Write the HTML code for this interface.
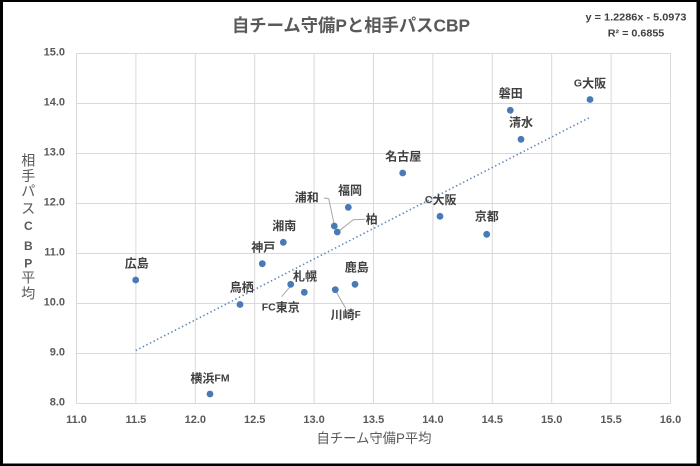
<!DOCTYPE html>
<html>
<head>
<meta charset="utf-8">
<style>
html,body{margin:0;padding:0;background:#fff;}
svg{display:block;}
text{font-family:"Liberation Sans","Noto Sans CJK JP",sans-serif;}
</style>
</head>
<body>
<svg width="700" height="466" viewBox="0 0 700 466" xmlns="http://www.w3.org/2000/svg">
  <rect x="0" y="0" width="700" height="466" fill="#000"/>
  <rect x="3" y="2" width="693.5" height="461.5" fill="#fff"/>

  <!-- gridlines -->
  <g stroke="#d9d9d9" stroke-width="1">
    <line x1="76.5" y1="53.5" x2="670.5" y2="53.5"/>
    <line x1="76.5" y1="103.5" x2="670.5" y2="103.5"/>
    <line x1="76.5" y1="153.5" x2="670.5" y2="153.5"/>
    <line x1="76.5" y1="203.5" x2="670.5" y2="203.5"/>
    <line x1="76.5" y1="253.5" x2="670.5" y2="253.5"/>
    <line x1="76.5" y1="303.5" x2="670.5" y2="303.5"/>
    <line x1="76.5" y1="353.5" x2="670.5" y2="353.5"/>
    <line x1="76.5" y1="403.5" x2="670.5" y2="403.5"/>
    <line x1="76.5" y1="53.5" x2="76.5" y2="403.5"/>
    <line x1="135.9" y1="53.5" x2="135.9" y2="403.5"/>
    <line x1="195.3" y1="53.5" x2="195.3" y2="403.5"/>
    <line x1="254.7" y1="53.5" x2="254.7" y2="403.5"/>
    <line x1="314.1" y1="53.5" x2="314.1" y2="403.5"/>
    <line x1="373.5" y1="53.5" x2="373.5" y2="403.5"/>
    <line x1="432.9" y1="53.5" x2="432.9" y2="403.5"/>
    <line x1="492.3" y1="53.5" x2="492.3" y2="403.5"/>
    <line x1="551.7" y1="53.5" x2="551.7" y2="403.5"/>
    <line x1="611.1" y1="53.5" x2="611.1" y2="403.5"/>
    <line x1="670.5" y1="53.5" x2="670.5" y2="403.5"/>
  </g>

  <!-- y tick labels -->
  <g fill="#595959" font-size="11" font-weight="bold" text-anchor="end" dominant-baseline="central">
    <text x="65" y="52.5">15.0</text>
    <text x="65" y="102.5">14.0</text>
    <text x="65" y="152.5">13.0</text>
    <text x="65" y="202.5">12.0</text>
    <text x="65" y="252.5">11.0</text>
    <text x="65" y="302.5">10.0</text>
    <text x="65" y="352.5">9.0</text>
    <text x="65" y="402.5">8.0</text>
  </g>

  <!-- x tick labels -->
  <g fill="#595959" font-size="11" font-weight="bold" text-anchor="middle" dominant-baseline="central">
    <text x="76.5" y="420">11.0</text>
    <text x="135.9" y="420">11.5</text>
    <text x="195.3" y="420">12.0</text>
    <text x="254.7" y="420">12.5</text>
    <text x="314.1" y="420">13.0</text>
    <text x="373.5" y="420">13.5</text>
    <text x="432.9" y="420">14.0</text>
    <text x="492.3" y="420">14.5</text>
    <text x="551.7" y="420">15.0</text>
    <text x="611.1" y="420">15.5</text>
    <text x="670.5" y="420">16.0</text>
  </g>

  <!-- title -->
  <text x="351" y="25.7" fill="#595959" font-size="17.5" font-weight="bold" text-anchor="middle" dominant-baseline="central" textLength="238" lengthAdjust="spacingAndGlyphs">自チーム守備Pと相手パスCBP</text>

  <!-- equation -->
  <text x="686.5" y="17.3" fill="#404040" font-size="10.5" font-weight="bold" text-anchor="end" dominant-baseline="central" textLength="101" lengthAdjust="spacingAndGlyphs">y = 1.2286x - 5.0973</text>
  <text x="664.3" y="33.3" fill="#404040" font-size="10.5" font-weight="bold" text-anchor="end" dominant-baseline="central" textLength="56.5" lengthAdjust="spacingAndGlyphs">R² = 0.6855</text>

  <!-- x axis title -->
  <text x="374" y="438.3" fill="#595959" font-size="13.5" text-anchor="middle" dominant-baseline="central" textLength="115" lengthAdjust="spacingAndGlyphs">自チーム守備P平均</text>

  <!-- y axis title (stacked) -->
  <g fill="#595959" font-size="14" text-anchor="middle" dominant-baseline="central">
    <text x="28.3" y="160.7">相</text>
    <text x="28.3" y="176">手</text>
    <text x="28.3" y="191">パ</text>
    <text x="28.3" y="208.3">ス</text>
    <text x="28.3" y="226" font-size="12" font-weight="bold">C</text>
    <text x="28.3" y="246" font-size="12" font-weight="bold">B</text>
    <text x="28.3" y="263.3" font-size="12" font-weight="bold">P</text>
    <text x="28.3" y="277.3">平</text>
    <text x="28.3" y="293.3">均</text>
  </g>

  <!-- trendline -->
  <line x1="135.7" y1="350.5" x2="590.7" y2="117" stroke="#5b87bd" stroke-width="1.6" stroke-dasharray="1.4 2.6" stroke-linecap="butt"/>

  <!-- leader lines -->
  <g stroke="#a6a6a6" stroke-width="1" fill="none">
    <polyline points="324,198 328.7,198.7 334,223.3"/>
    <polyline points="365.3,219.3 353.3,219.7 339.3,230.7"/>
    <polyline points="281.7,296.7 290,286.7"/>
    <polyline points="336.7,292.7 345.7,308.3"/>
  </g>

  <!-- points -->
  <g fill="#4a7ab5">
    <circle cx="135.7" cy="280" r="3.4"/>
    <circle cx="210" cy="394" r="3.4"/>
    <circle cx="240" cy="304.5" r="3.4"/>
    <circle cx="262.3" cy="263.7" r="3.4"/>
    <circle cx="283.3" cy="242.3" r="3.4"/>
    <circle cx="290.7" cy="284.3" r="3.4"/>
    <circle cx="304.3" cy="292.3" r="3.4"/>
    <circle cx="334.3" cy="226" r="3.4"/>
    <circle cx="337.3" cy="232" r="3.4"/>
    <circle cx="348.3" cy="207.3" r="3.4"/>
    <circle cx="335.3" cy="289.7" r="3.4"/>
    <circle cx="355" cy="284.3" r="3.4"/>
    <circle cx="402.7" cy="173" r="3.4"/>
    <circle cx="440" cy="216.3" r="3.4"/>
    <circle cx="486.7" cy="234.3" r="3.4"/>
    <circle cx="510.3" cy="110.3" r="3.4"/>
    <circle cx="521" cy="139.3" r="3.4"/>
    <circle cx="590" cy="99.5" r="3.4"/>
  </g>

  <!-- data labels -->
  <g fill="#404040" font-size="12" font-weight="bold" text-anchor="middle" dominant-baseline="central">
    <text x="136.7" y="263.3">広島</text>
    <text x="210" y="378.3">横浜<tspan font-size="10.5">FM</tspan></text>
    <text x="241.7" y="287.7">鳥栖</text>
    <text x="263.3" y="247.3">神戸</text>
    <text x="284.3" y="226">湘南</text>
    <text x="305" y="276.7">札幌</text>
    <text x="280.7" y="307.7"><tspan font-size="10.5">FC</tspan>東京</text>
    <text x="306.7" y="197.3">浦和</text>
    <text x="371.7" y="219.3">柏</text>
    <text x="350" y="190.7">福岡</text>
    <text x="345.7" y="315">川崎<tspan font-size="10">F</tspan></text>
    <text x="356.7" y="267.3">鹿島</text>
    <text x="403.3" y="156.7">名古屋</text>
    <text x="440.7" y="200"><tspan font-size="10.5">C</tspan>大阪</text>
    <text x="486.7" y="216.7">京都</text>
    <text x="510.7" y="93.3">磐田</text>
    <text x="521" y="122.3">清水</text>
    <text x="590" y="83.3"><tspan font-size="10.5">G</tspan>大阪</text>
  </g>
</svg>
</body>
</html>
